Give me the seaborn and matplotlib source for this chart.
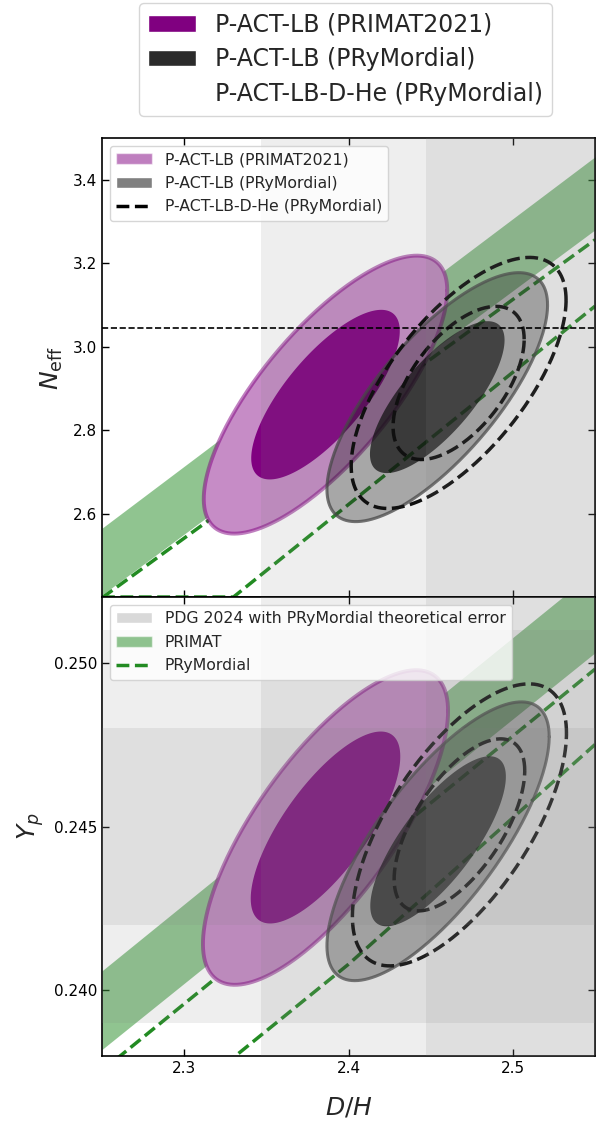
import numpy as np
import matplotlib
matplotlib.use("Agg")
import matplotlib.pyplot as plt
from matplotlib.patches import Patch
from matplotlib.lines import Line2D
import seaborn as sns

sns.set_style("ticks", {"xtick.direction": "in", "ytick.direction": "in"})
plt.rcParams["font.family"] = ["DejaVu Sans"]
plt.rcParams["mathtext.fontset"] = "dejavusans"

# ---- BBN theory predictions as functions of D/H ----
dh_band = [2.25, 2.55]
primat_neff_lo = [2.405, 3.28]
primat_neff_hi = [2.565, 3.455]
primat_yp_lo = [0.2382, 0.2503]
primat_yp_hi = [0.2406, 0.2528]

prym_neff_hi_dh = [2.25, 2.55]
prym_neff_hi = [2.398, 3.256]
prym_neff_lo_dh = [2.25, 2.33, 2.55]
prym_neff_lo = [2.40, 2.40, 3.097]

prym_yp_hi_dh = [2.25, 2.55]
prym_yp_hi = [0.23755, 0.2498]
prym_yp_lo_dh = [2.25, 2.40, 2.55]
prym_yp_lo = [0.2347, 0.2408, 0.2475]

# ---- Observational constraints ----
dh_obs_mean, dh_obs_sigma = 2.547, 0.100
yp_obs_mean, yp_obs_sigma = 0.245, 0.003
neff_sm = 3.044

# ---- CMB posteriors: mean (D/H, param), sigma (D/H, param),
#      correlation for the 68% and 95% contours ----
neff_primat_mean = [2.386, 2.885]
neff_primat_sigma = [0.0298, 0.134]
neff_primat_rho = [0.75, 0.75]
neff_prym_mean = [2.454, 2.879]
neff_prym_sigma = [0.0270, 0.120]
neff_prym_rho = [0.75, 0.74]
neff_dhe_mean = [2.467, 2.913]
neff_dhe_sigma = [0.0263, 0.121]
neff_dhe_rho = [0.57, 0.66]

yp_primat_mean = [2.386, 0.24497]
yp_primat_sigma = [0.0300, 0.00193]
yp_primat_rho = [0.74, 0.74]
yp_prym_mean = [2.4545, 0.24455]
yp_prym_sigma = [0.0272, 0.00171]
yp_prym_rho = [0.76, 0.75]
yp_dhe_mean = [2.4675, 0.24505]
yp_dhe_sigma = [0.0262, 0.00173]
yp_dhe_rho = [0.63, 0.65]

# Delta chi^2 for the 68% and 95% two-parameter regions
k68, k95 = np.sqrt(2.30), np.sqrt(6.18)

PURPLE = "purple"
PURPLE_LIGHT = "#c68cc6"
GREEN = "forestgreen"


def contour(mean, sigma, rho, k, n=300):
    t = np.linspace(0, 2 * np.pi, n)
    x = mean[0] + k * sigma[0] * np.cos(t)
    y = mean[1] + k * sigma[1] * (rho * np.cos(t) + np.sqrt(1 - rho ** 2) * np.sin(t))
    return x, y


def draw_panel(ax, lo, hi, hi_dh, hi_y, lo_dh, lo_y, pm, ps, pr, gm, gs, gr, dm, ds, dr):
    ax.fill_between(dh_band, lo, hi, color=GREEN, alpha=0.5, lw=0, zorder=1)
    sns.lineplot(x=hi_dh, y=hi_y, ax=ax, color=GREEN, lw=2.5, linestyle="--",
                 legend=False, zorder=2)
    sns.lineplot(x=lo_dh, y=lo_y, ax=ax, color=GREEN, lw=2.5, linestyle="--",
                 legend=False, zorder=2)

    # PRIMAT2021 posterior
    x, y = contour(pm, ps, pr[1], k95)
    ax.fill(x, y, color=PURPLE_LIGHT, lw=0, zorder=3)
    ax.plot(x, y, color=PURPLE, alpha=0.5, lw=2.8, zorder=3)
    x, y = contour(pm, ps, pr[0], k68)
    ax.fill(x, y, color=PURPLE, lw=0, zorder=3)

    # PRyMordial posterior
    x, y = contour(gm, gs, gr[1], k95)
    ax.fill(x, y, color="black", alpha=0.32, lw=0, zorder=4)
    ax.plot(x, y, color="#404040", alpha=0.75, lw=2.2, zorder=4)
    x, y = contour(gm, gs, gr[0], k68)
    ax.fill(x, y, color="black", alpha=0.72, lw=0, zorder=4)

    # PRyMordial with D and He data
    for rho, k in zip(dr, (k68, k95)):
        x, y = contour(dm, ds, rho, k)
        ax.plot(x, y, color="black", lw=2.5, linestyle="--", zorder=5)

    ax.axvspan(dh_obs_mean - 2 * dh_obs_sigma, dh_obs_mean + 2 * dh_obs_sigma,
               color="grey", alpha=0.13, lw=0, zorder=6)
    ax.axvspan(dh_obs_mean - dh_obs_sigma, dh_obs_mean + dh_obs_sigma,
               color="grey", alpha=0.13, lw=0, zorder=6)


fig = plt.figure(figsize=(6.05, 11.22), dpi=100)
ax1 = fig.add_axes([0.1686, 0.4679, 0.8149, 0.4091])
ax2 = fig.add_axes([0.1686, 0.0588, 0.8149, 0.4091], sharex=ax1)

draw_panel(ax1, primat_neff_lo, primat_neff_hi, prym_neff_hi_dh, prym_neff_hi,
           prym_neff_lo_dh, prym_neff_lo,
           neff_primat_mean, neff_primat_sigma, neff_primat_rho,
           neff_prym_mean, neff_prym_sigma, neff_prym_rho,
           neff_dhe_mean, neff_dhe_sigma, neff_dhe_rho)
ax1.axhline(neff_sm, color="black", lw=1.2, linestyle="--", zorder=7)

draw_panel(ax2, primat_yp_lo, primat_yp_hi, prym_yp_hi_dh, prym_yp_hi,
           prym_yp_lo_dh, prym_yp_lo,
           yp_primat_mean, yp_primat_sigma, yp_primat_rho,
           yp_prym_mean, yp_prym_sigma, yp_prym_rho,
           yp_dhe_mean, yp_dhe_sigma, yp_dhe_rho)
ax2.axhspan(yp_obs_mean - 2 * yp_obs_sigma, yp_obs_mean + 2 * yp_obs_sigma,
            color="grey", alpha=0.13, lw=0, zorder=6)
ax2.axhspan(yp_obs_mean - yp_obs_sigma, yp_obs_mean + yp_obs_sigma,
            color="grey", alpha=0.13, lw=0, zorder=6)

ax1.set_xlim(2.25, 2.55)
ax1.set_ylim(2.40, 3.50)
ax2.set_ylim(0.238, 0.252)
ax1.set_xticks([2.3, 2.4, 2.5])
ax1.set_yticks([2.6, 2.8, 3.0, 3.2, 3.4])
ax2.set_yticks([0.240, 0.245, 0.250])
ax2.yaxis.set_major_formatter(matplotlib.ticker.FormatStrFormatter("%.3f"))

for ax in (ax1, ax2):
    ax.tick_params(direction="in", top=True, right=True, length=5, width=1,
                   labelsize=11, colors="black")
    for s in ax.spines.values():
        s.set_linewidth(1.2)
        s.set_color("black")
ax1.tick_params(labelbottom=False)

ax1.set_ylabel(r"$N_{\rm eff}$", fontsize=18)
ax2.set_ylabel(r"$Y_p$", fontsize=18)
ax2.set_xlabel(r"$D/H$", fontsize=18, labelpad=14)
ax1.yaxis.set_label_coords(-0.075, 0.5)
ax2.yaxis.set_label_coords(-0.113, 0.5)

h1 = [Patch(facecolor=PURPLE, alpha=0.5, label="P-ACT-LB (PRIMAT2021)"),
      Patch(facecolor="grey", label="P-ACT-LB (PRyMordial)"),
      Line2D([], [], color="black", lw=2.5, linestyle="--",
             label="P-ACT-LB-D-He (PRyMordial)")]
leg1 = ax1.legend(handles=h1, loc="upper left", fontsize=11.3, handlelength=2.3,
                  labelspacing=0.55)
leg1.set_zorder(10)

h2 = [Patch(facecolor="#d9d9d9", label="PDG 2024 with PRyMordial theoretical error"),
      Patch(facecolor=GREEN, alpha=0.5, label="PRIMAT"),
      Line2D([], [], color=GREEN, lw=2.5, linestyle="--", label="PRyMordial")]
leg2 = ax2.legend(handles=h2, loc="upper left", fontsize=11.3, handlelength=2.3,
                  labelspacing=0.55)
leg2.set_zorder(10)

h3 = [Patch(facecolor=PURPLE, label="P-ACT-LB (PRIMAT2021)"),
      Patch(facecolor="#2b2b2b", label="P-ACT-LB (PRyMordial)"),
      Line2D([], [], color="none", label="P-ACT-LB-D-He (PRyMordial)")]
fig.legend(handles=h3, loc="upper center", bbox_to_anchor=(0.571, 1.0075),
           fontsize=17, labelspacing=0.45)

fig.savefig("out.png", dpi=100)
